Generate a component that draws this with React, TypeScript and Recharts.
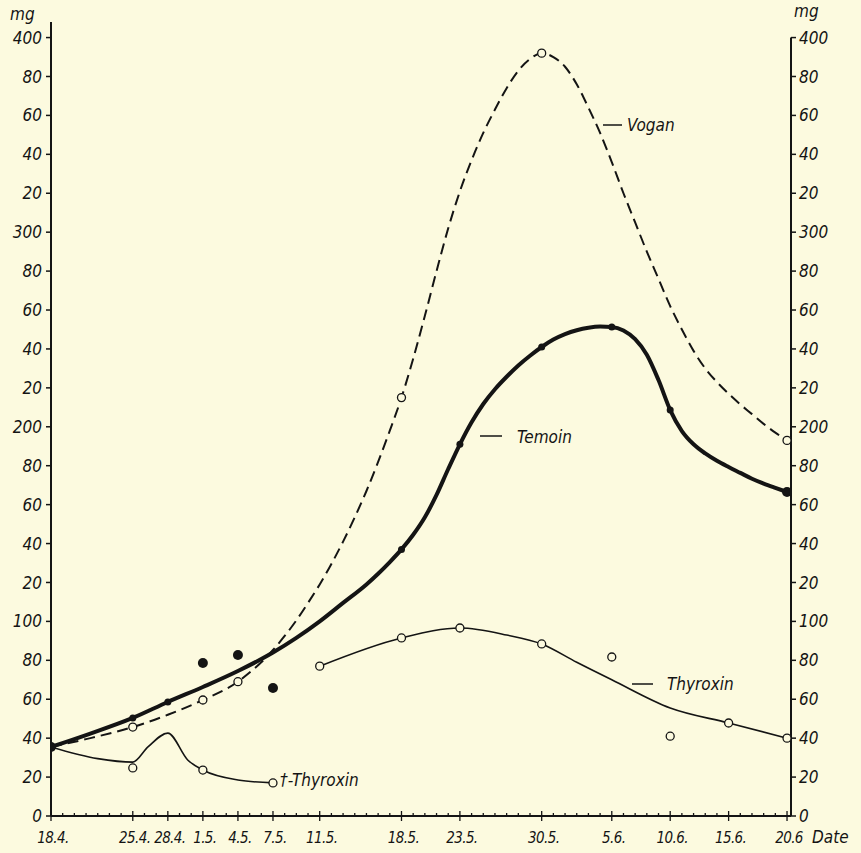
import React from 'react'
import { ComposedChart, Line, XAxis, YAxis, ReferenceLine } from 'recharts'

const INK = '#141414'
const BG = '#fcfadf'
const FONT = "'DejaVu Sans Condensed', 'DejaVu Sans', sans-serif"

// days counted from 18.4.
const dateDays = [0, 7, 10, 13, 16, 19, 23, 30, 35, 42, 48, 53, 58, 63]
const dateLabels = ['18.4.', '25.4.', '28.4.', '1.5.', '4.5.', '7.5.', '11.5.', '18.5.', '23.5.', '30.5.', '5.6.', '10.6.', '15.6.', '20.6']
const dayTicks = [
  0, 1, 2, 3, 4, 5, 6, 7, 8, 9, 10, 11, 12, 13, 14, 15, 16, 17, 18, 19, 20, 21,
  22, 23, 24, 25, 26, 27, 28, 29, 30, 31, 32, 33, 34, 35, 36, 37, 38, 39, 40, 41,
  42, 43, 44, 45, 46, 47, 48, 49, 50, 51, 52, 53, 54, 55, 56, 57, 58, 59, 60, 61, 62, 63,
]

const mgTicks = [0, 20, 40, 60, 80, 100, 120, 140, 160, 180, 200, 220, 240, 260, 280, 300, 320, 340, 360, 380, 400]
const mgLabels = ['0', '20', '40', '60', '80', '100', '20', '40', '60', '80', '200', '20', '40', '60', '80', '300', '20', '40', '60', '80', '400']

// Temoin (thick curve, filled dots)
const temoinCurve = [
  { day: 0, mg: 35.5 }, { day: 3, mg: 41.6 }, { day: 7, mg: 50.4 }, { day: 10, mg: 58.6 },
  { day: 13, mg: 66.3 }, { day: 16, mg: 74.5 }, { day: 19, mg: 84 }, { day: 21, mg: 91.5 },
  { day: 23, mg: 100 }, { day: 25, mg: 109.5 }, { day: 27, mg: 119 }, { day: 28, mg: 124.5 },
  { day: 29, mg: 130.5 }, { day: 30, mg: 137 }, { day: 31, mg: 144.5 }, { day: 32, mg: 153.5 },
  { day: 33, mg: 165 }, { day: 34, mg: 178.3 }, { day: 35, mg: 191 }, { day: 36, mg: 202.3 },
  { day: 37, mg: 211.7 }, { day: 38, mg: 219.3 }, { day: 39, mg: 225.7 }, { day: 40, mg: 231.5 },
  { day: 41, mg: 236.5 }, { day: 42, mg: 241 }, { day: 43, mg: 244.8 }, { day: 44, mg: 247.6 },
  { day: 45, mg: 249.6 }, { day: 46, mg: 250.9 }, { day: 47, mg: 251.5 }, { day: 48, mg: 251.3 },
  { day: 49, mg: 249.5 }, { day: 50, mg: 245 }, { day: 51, mg: 237 }, { day: 52, mg: 224 },
  { day: 53, mg: 208.6 }, { day: 54, mg: 197.8 }, { day: 55, mg: 191 }, { day: 56, mg: 186.3 },
  { day: 57, mg: 182.5 }, { day: 58, mg: 179.3 }, { day: 59, mg: 176.3 }, { day: 60, mg: 173.3 },
  { day: 61, mg: 170.8 }, { day: 62, mg: 168.6 }, { day: 63, mg: 166.5 },
]
const temoinPoints = [
  { day: 7, mg: 50.4 }, { day: 10, mg: 58.6 }, { day: 30, mg: 137 }, { day: 35, mg: 191 },
  { day: 42, mg: 241 }, { day: 48, mg: 251.3 }, { day: 53, mg: 208.6 },
]
const temoinBigPoints = [
  { day: 0, mg: 35.5 }, { day: 13, mg: 78.6 }, { day: 16, mg: 82.7 }, { day: 19, mg: 65.8 }, { day: 63, mg: 166.5 },
]

// Vogan (dashed curve, open circles)
const voganCurve = [
  { day: 0, mg: 35.5 }, { day: 3, mg: 39.5 }, { day: 7, mg: 45.7 }, { day: 10, mg: 52 },
  { day: 13, mg: 59.6 }, { day: 16, mg: 69 }, { day: 17, mg: 73.7 }, { day: 18, mg: 79 },
  { day: 19, mg: 85.3 }, { day: 20, mg: 92.5 }, { day: 21, mg: 100.5 }, { day: 22, mg: 109.5 },
  { day: 23, mg: 119 }, { day: 24, mg: 129.5 }, { day: 25, mg: 141 }, { day: 26, mg: 153.5 },
  { day: 27, mg: 167 }, { day: 28, mg: 182 }, { day: 29, mg: 198 }, { day: 30, mg: 215 },
  { day: 31, mg: 235 }, { day: 32, mg: 257 }, { day: 33, mg: 280 }, { day: 34, mg: 302 },
  { day: 35, mg: 321 }, { day: 36, mg: 337 }, { day: 37, mg: 351 }, { day: 38, mg: 363 },
  { day: 39, mg: 374 }, { day: 40, mg: 383 }, { day: 41, mg: 389 }, { day: 42, mg: 392 },
  { day: 43, mg: 390 }, { day: 44, mg: 385 }, { day: 45, mg: 376 }, { day: 46, mg: 364 },
  { day: 47, mg: 351 }, { day: 48, mg: 336 }, { day: 49, mg: 320 }, { day: 50, mg: 305 },
  { day: 51, mg: 290 }, { day: 52, mg: 276 }, { day: 53, mg: 262 }, { day: 54, mg: 250 },
  { day: 55, mg: 239 }, { day: 56, mg: 230 }, { day: 57, mg: 223 }, { day: 58, mg: 217 },
  { day: 59, mg: 211.5 }, { day: 60, mg: 206.5 }, { day: 61, mg: 201.5 }, { day: 62, mg: 197 },
  { day: 63, mg: 193 },
]
const voganPoints = [
  { day: 7, mg: 45.7 }, { day: 13, mg: 59.6 }, { day: 16, mg: 69 }, { day: 30, mg: 215 },
  { day: 42, mg: 392 }, { day: 63, mg: 193 },
]

// Thyroxin (thin curve, open circles)
const thyroxinCurve = [
  { day: 23, mg: 77 }, { day: 30, mg: 91.5 }, { day: 35, mg: 96.6 }, { day: 39, mg: 93 },
  { day: 42, mg: 88.4 }, { day: 45, mg: 79 }, { day: 48, mg: 70 }, { day: 53, mg: 55.5 },
  { day: 58, mg: 47.8 }, { day: 63, mg: 40 },
]
const thyroxinPoints = [
  { day: 23, mg: 77 }, { day: 30, mg: 91.5 }, { day: 35, mg: 96.6 }, { day: 42, mg: 88.4 },
  { day: 48, mg: 81.7 }, { day: 53, mg: 41 }, { day: 58, mg: 47.8 }, { day: 63, mg: 40 },
]

// †-Thyroxin
const deadCurve = [
  { day: 0, mg: 35.5 }, { day: 4, mg: 29.5 }, { day: 7, mg: 27.7 }, { day: 8.3, mg: 35.5 },
  { day: 10, mg: 42.6 }, { day: 11.7, mg: 28.8 }, { day: 13, mg: 23.6 }, { day: 16, mg: 18.5 },
  { day: 19, mg: 17 },
]
const deadPoints = [{ day: 7, mg: 24.7 }, { day: 13, mg: 23.6 }, { day: 19, mg: 17 }]

const openDot = { r: 4, fill: BG, stroke: INK, strokeWidth: 1.3 }

function DayTick(props: any) {
  const { x, y, payload } = props
  const i = dateDays.indexOf(payload.value)
  const major = i >= 0
  return (
    <g>
      <line x1={x} x2={x} y1={y - (major ? 5 : 3)} y2={y + (major ? 5 : 0)} stroke={INK} strokeWidth={1.3} />
      {major && (
        <text x={x + 2} y={y + 27} textAnchor="middle" fill={INK} fontSize={15} fontStyle="italic" fontFamily={FONT} letterSpacing={-0.6}>
          {dateLabels[i]}
        </text>
      )}
    </g>
  )
}

const fmt = (v: number) => mgLabels[mgTicks.indexOf(v)] ?? ''
const tickStyle = { fill: INK, fontSize: 17, fontStyle: 'italic', fontFamily: FONT }

export default function App() {
  return (
    <div style={{ position: 'absolute', left: 0, top: 0, width: 861, height: 853, background: BG }}>
      <ComposedChart width={861} height={853} margin={{ top: 22, right: 0, bottom: 0, left: 0 }}>
        <XAxis
          type="number"
          dataKey="day"
          domain={[0, 63.34]}
          allowDataOverflow
          ticks={dayTicks}
          interval={0}
          tick={<DayTick />}
          tickLine={false}
          tickSize={0}
          tickMargin={0}
          height={37}
          axisLine={{ stroke: INK, strokeWidth: 1.8 }}
        />
        <YAxis
          yAxisId="l"
          width={51}
          domain={[0, 408]}
          allowDataOverflow
          ticks={mgTicks}
          interval={0}
          tickFormatter={fmt}
          tick={tickStyle}
          tickSize={5}
          tickMargin={4}
          axisLine={{ stroke: INK, strokeWidth: 2 }}
          tickLine={{ stroke: INK, strokeWidth: 1.5 }}
        />
        <YAxis
          yAxisId="r"
          orientation="right"
          width={70}
          domain={[0, 408]}
          allowDataOverflow
          ticks={mgTicks}
          interval={0}
          tickFormatter={fmt}
          tick={{ ...tickStyle, textAnchor: 'start' }}
          tickSize={5}
          tickMargin={3}
          axisLine={false}
          tickLine={{ stroke: INK, strokeWidth: 1.5 }}
        />
        <ReferenceLine
          yAxisId="r"
          ifOverflow="visible"
          segment={[{ x: 63.34, y: 0 }, { x: 63.34, y: 400 }]}
          stroke={INK}
          strokeWidth={2}
        />

        <Line yAxisId="l" data={voganCurve} dataKey="mg" type="monotone" stroke={INK} strokeWidth={2} strokeDasharray="11 6" dot={false} isAnimationActive={false} />
        <Line yAxisId="l" data={thyroxinCurve} dataKey="mg" type="monotone" stroke={INK} strokeWidth={1.6} dot={false} isAnimationActive={false} />
        <Line yAxisId="l" data={deadCurve} dataKey="mg" type="monotone" stroke={INK} strokeWidth={1.6} dot={false} isAnimationActive={false} />
        <Line yAxisId="l" data={temoinCurve} dataKey="mg" type="monotone" stroke={INK} strokeWidth={4} dot={false} isAnimationActive={false} />

        <Line yAxisId="r" data={temoinPoints} dataKey="mg" stroke="none" dot={{ r: 3.5, fill: INK, stroke: INK, strokeWidth: 0 }} isAnimationActive={false} />
        <Line yAxisId="r" data={temoinBigPoints} dataKey="mg" stroke="none" dot={{ r: 5, fill: INK, stroke: INK, strokeWidth: 0 }} isAnimationActive={false} />
        <Line yAxisId="r" data={voganPoints} dataKey="mg" stroke="none" dot={openDot} isAnimationActive={false} />
        <Line yAxisId="r" data={thyroxinPoints} dataKey="mg" stroke="none" dot={openDot} isAnimationActive={false} />
        <Line yAxisId="r" data={deadPoints} dataKey="mg" stroke="none" dot={openDot} isAnimationActive={false} />
      </ComposedChart>

      <svg width={861} height={853} style={{ position: 'absolute', left: 0, top: 0, pointerEvents: 'none' }}>
        <g fill={INK} fontFamily={FONT} fontStyle="italic" fontSize={17}>
          <text x={10} y={20}>mg</text>
          <text x={794} y={17}>mg</text>
          <text x={812} y={843}>Date</text>
          <line x1={603} x2={622} y1={125} y2={125} stroke={INK} strokeWidth={1.5} />
          <text x={627} y={131}>Vogan</text>
          <line x1={480} x2={502} y1={436} y2={436} stroke={INK} strokeWidth={1.5} />
          <text x={517} y={443}>Temoin</text>
          <line x1={632} x2={653} y1={684} y2={684} stroke={INK} strokeWidth={1.5} />
          <text x={667} y={690}>Thyroxin</text>
          <text x={280} y={786}>†-Thyroxin</text>
        </g>
      </svg>
    </div>
  )
}
